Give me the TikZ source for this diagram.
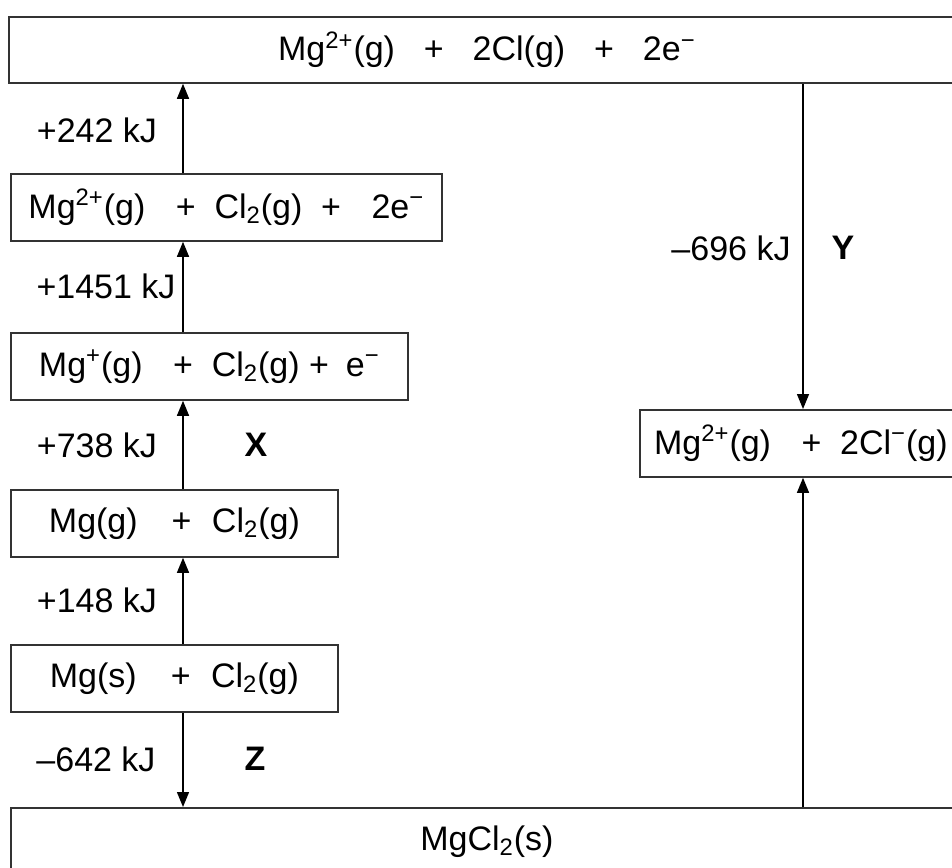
\documentclass[tikz,border=0pt]{standalone}
\usepackage{fontspec}
\setmainfont{Liberation Sans}
\usetikzlibrary{arrows.meta}
\begin{document}
\begin{tikzpicture}[x=0.5pt, y=-0.5pt, >={Triangle[length=7.5pt,width=6pt]}, font=\fontsize{17}{20}\selectfont]
        \tikzset{box/.style={draw=black!80, line width=0.9pt, anchor=north west, inner sep=0pt, minimum height=33.5pt, align=center},
                 flow/.style={->, line width=0.7pt}}
        \useasboundingbox (0,0) rectangle (952,867);
        \node[box, minimum width=478pt, minimum height=33pt] (atoms) at (8,16) {Mg\textsuperscript{2+}(g)\hspace{0.85em}+\hspace{0.85em}2Cl(g)\hspace{0.85em}+\hspace{0.85em}2e\textsuperscript{−}};
        \node[box, minimum width=215.5pt] (ions2) at (10,173) {Mg\textsuperscript{2+}(g)\hspace{0.9em}+\hspace{0.55em}Cl\textsubscript{2}(g)\hspace{0.55em}+\hspace{0.9em}2e\textsuperscript{−}};
        \node[box, minimum width=198.5pt] (ions1) at (10,332) {Mg\textsuperscript{+}(g)\hspace{0.9em}+\hspace{0.55em}Cl\textsubscript{2}(g) +\hspace{0.5em}e\textsuperscript{−}};
        \node[box, minimum width=163.5pt] (gas) at (10,489) {Mg(g)\hspace{1em}+\hspace{0.6em}Cl\textsubscript{2}(g)};
        \node[box, minimum width=163.5pt] (solid) at (10,644) {Mg(s)\hspace{1em}+\hspace{0.6em}Cl\textsubscript{2}(g)};
        \node[box, minimum width=476pt, minimum height=34pt] (salt) at (10,807) {MgCl\textsubscript{2}(s)};
        \node[box, minimum width=161pt] (ionsg) at (639,409) {Mg\textsuperscript{2+}(g)\hspace{0.9em}+\hspace{0.55em}2Cl\textsuperscript{−}(g)};
        \coordinate (lx) at (183,0);
        \coordinate (rx) at (803,0);
        % left column
        \draw[flow] (ions2.north -| lx) -- (atoms.south -| lx);
        \draw[flow] (ions1.north -| lx) -- (ions2.south -| lx);
        \draw[flow] (gas.north -| lx) -- (ions1.south -| lx);
        \draw[flow] (solid.north -| lx) -- (gas.south -| lx);
        \draw[flow] (solid.south -| lx) -- (salt.north -| lx);
        % right column
        \draw[flow] (atoms.south -| rx) -- (ionsg.north -| rx);
        \draw[flow] (salt.north -| rx) -- (ionsg.south -| rx);
        % labels
        \node (e242) at (97,130) {+242 kJ};
        \node (e1451) at (106,286) {+1451 kJ};
        \node (e738) at (97,445) {+738 kJ};
        \node (lblx) at (256,445) {\textbf{X}};
        \node (e148) at (97,600) {+148 kJ};
        \node (e642) at (96,759) {–642 kJ};
        \node (lblz) at (255,759) {\textbf{Z}};
        \node (e696) at (731,248) {–696 kJ};
        \node (lbly) at (843,248) {\textbf{Y}};
\end{tikzpicture}
\end{document}
